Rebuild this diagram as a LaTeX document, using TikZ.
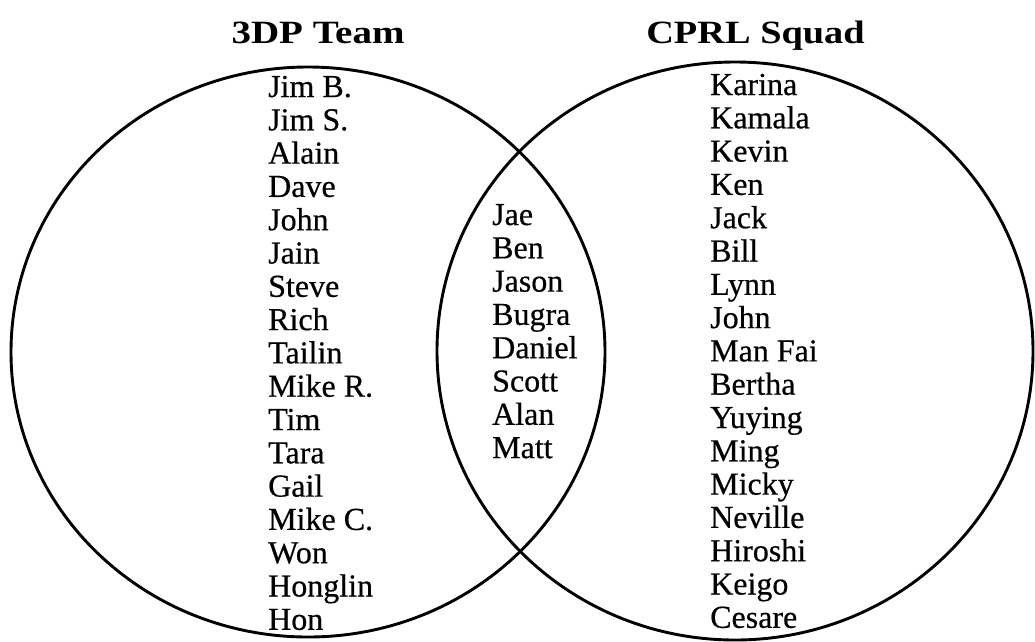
\documentclass[tikz,border=0pt]{standalone}
\usepackage{fontspec}
\usepackage{graphicx}
\setmainfont{Liberation Serif}
\newfontfamily\namefont{Liberation Serif}[FakeBold=0.5]
\begin{document}
\begin{tikzpicture}[x=1pt,y=-1pt,
  setline/.style={line width=2.9pt},
  namelbl/.style={anchor=base west,inner sep=0pt,font=\namefont\fontsize{32}{32}\selectfont},
  titlelbl/.style={anchor=base,inner sep=0pt,font=\bfseries\fontsize{32.5}{32.5}\selectfont}]
\useasboundingbox (0,0) rectangle (1035,641);
\draw[setline] (308,352) ellipse [x radius=297, y radius=285];
\draw[setline] (735,351) ellipse [x radius=298, y radius=289];
\node[titlelbl] (tl) at (318,43) {\scalebox{1.2}[1]{3DP Team}};
\node[titlelbl] (tr) at (755.5,43) {\scalebox{1.18}[1]{CPRL Squad}};
\foreach \n [count=\i from 0] in {Jim B.,Jim S.,Alain,Dave,John,Jain,Steve,Rich,Tailin,Mike R.,Tim,Tara,Gail,Mike C.,Won,Honglin,Hon}
  \node[namelbl] (l\i) at (268,97+33.3*\i) {\n};
\foreach \n [count=\i from 0] in {Jae,Ben,Jason,Bugra,Daniel,Scott,Alan,Matt}
  \node[namelbl] (m\i) at (492,225+33.3*\i) {\n};
\foreach \n [count=\i from 0] in {Karina,Kamala,Kevin,Ken,Jack,Bill,Lynn,John,Man Fai,Bertha,Yuying,Ming,Micky,Neville,Hiroshi,Keigo,Cesare}
  \node[namelbl] (r\i) at (710,95+33.3*\i) {\n};
\end{tikzpicture}
\end{document}
